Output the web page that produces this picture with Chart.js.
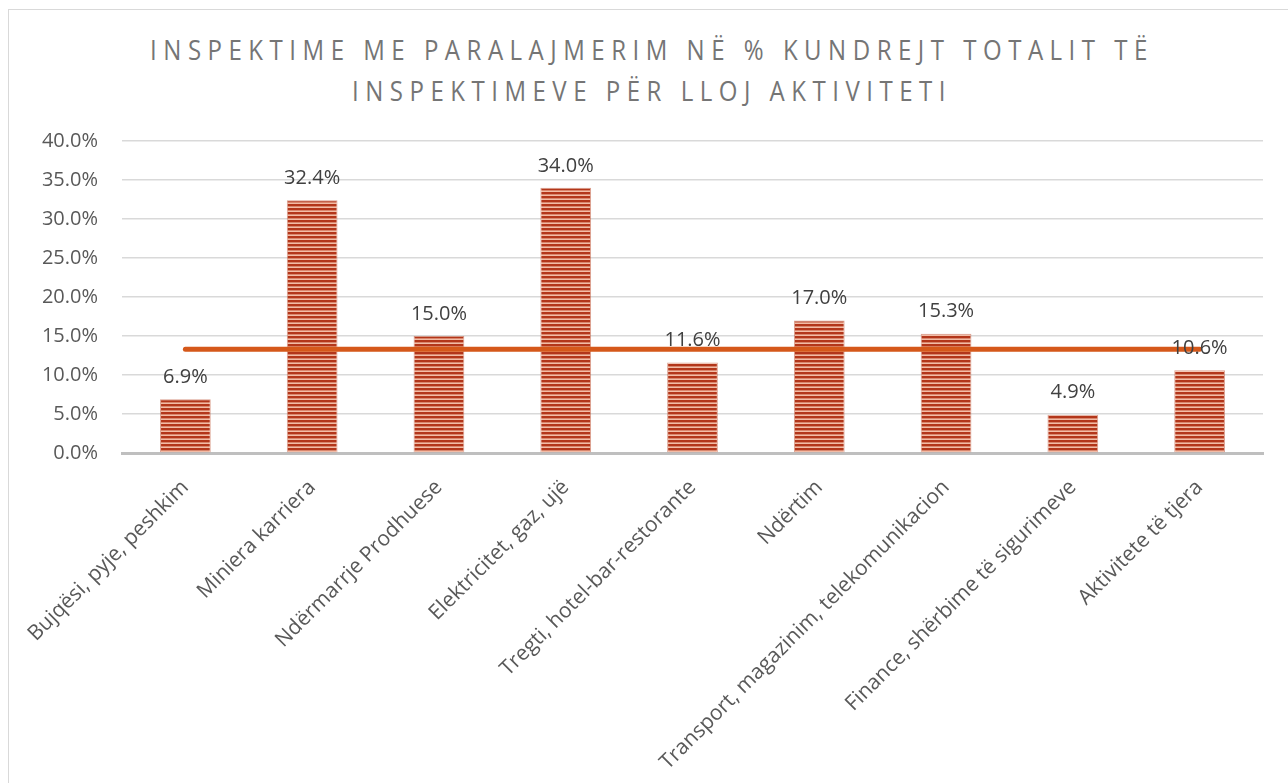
<!DOCTYPE html>
<html>
<head>
<meta charset="utf-8">
<script src="https://cdn.jsdelivr.net/npm/chart.js@4/dist/chart.umd.min.js"></script>
<style>
  html, body { margin: 0; padding: 0; background: #fff; }
  #wrap { position: relative; width: 1288px; height: 783px; overflow: hidden; }
  #frame { position: absolute; left: 8px; top: 9px; width: 1290px; height: 790px; border: 1px solid #d9d9d9; box-sizing: border-box; }
  #title { position: absolute; left: 8px; top: 29px; width: 1288px; text-align: center; font-family: 'Open Sans', sans-serif; font-size: 27px; font-weight: 400; letter-spacing: 7.3px; line-height: 41px; color: #757575; transform: scaleX(0.89); transform-origin: 644px 0; }
  canvas { position: absolute; left: 0; top: 0; }
</style>
</head>
<body>
<div id="wrap">
  <div id="frame"></div>
  <div id="title">INSPEKTIME ME PARALAJMERIM NË % KUNDREJT TOTALIT TË<br>INSPEKTIMEVE PËR LLOJ AKTIVITETI</div>
  <canvas id="mycanvas" width="1288" height="783"></canvas>
</div>
<script>
var categories = ['Bujqësi, pyje, peshkim', 'Miniera karriera', 'Ndërmarrje Prodhuese', 'Elektricitet, gaz, ujë', 'Tregti, hotel-bar-restorante', 'Ndërtim', 'Transport, magazinim, telekomunikacion', 'Finance, shërbime të sigurimeve', 'Aktivitete të tjera'];
var shares = [6.9, 32.4, 15.0, 34.0, 11.6, 17.0, 15.3, 4.9, 10.6];
var average = [13.3, 13.3, 13.3, 13.3, 13.3, 13.3, 13.3, 13.3, 13.3];
var yTicks = [0, 5, 10, 15, 20, 25, 30, 35, 40];

// striped fill like the original
function stripes() {
	var c = document.createElement('canvas');
	c.width = 8; c.height = 4;
	var g = c.getContext('2d');
	g.fillStyle = '#f2bca6';
	g.fillRect(0, 0, 8, 4);
	g.fillStyle = '#b3361a';
	g.fillRect(0, 0, 8, 2.4);
	return g.createPattern(c, 'repeat');
}

var valueLabels = {
	id: 'valueLabels',
	afterDraw: function(chart) {
		var ctx = chart.ctx;
		var meta = chart.getDatasetMeta(1);
		ctx.save();
		ctx.font = '20px "Open Sans", sans-serif';
		ctx.fillStyle = '#404040';
		ctx.textAlign = 'center';
		ctx.textBaseline = 'bottom';
		meta.data.forEach(function(bar, i) {
			ctx.fillText(shares[i].toFixed(1) + '%', bar.x, bar.y - 12);
		});
		ctx.restore();
	}
};

var ctx = document.getElementById('mycanvas');
var chart = new Chart(ctx, {
	data: {
		labels: categories,
		datasets: [
			{
				type: 'line',
				label: 'Mesatarja',
				data: average,
				borderColor: '#d5581a',
				borderWidth: 5,
				borderCapStyle: 'round',
				pointRadius: 0,
				order: 0
			},
			{
				type: 'bar',
				label: 'Inspektime me paralajmerim',
				data: shares,
				backgroundColor: stripes(),
				borderColor: 'rgba(190,80,50,0.55)',
				borderWidth: 1,
				barPercentage: 0.4,
				categoryPercentage: 1,
				order: 1
			}
		]
	},
	options: {
		responsive: false,
		animation: false,
		layout: { padding: { top: 141, left: 10, right: 25, bottom: 10 } },
		plugins: {
			legend: { display: false },
			tooltip: { enabled: false }
		},
		scales: {
			x: {
				offset: true,
				grid: { display: false },
				border: { color: '#bfbfbf', width: 3 },
				ticks: {
					minRotation: 45, maxRotation: 45,
					padding: 14,
					color: '#595959',
					font: { family: 'Open Sans', size: 21 }
				},
				afterFit: function(scale) { scale.height = 320; }
			},
			y: {
				min: 0, max: 40,
				afterBuildTicks: function(scale) {
					scale.ticks = yTicks.map(function(v) { return { value: v }; });
				},
				grid: { color: '#d9d9d9', lineWidth: 1.5, drawTicks: false },
				border: { display: false },
				ticks: {
					padding: 24,
					color: '#595959',
					font: { family: 'Open Sans', size: 20 },
					callback: function(v) { return v.toFixed(1) + '%'; }
				},
				afterFit: function(scale) { scale.width = 112; }
			}
		}
	},
	plugins: [valueLabels]
});
</script>
</body>
</html>
